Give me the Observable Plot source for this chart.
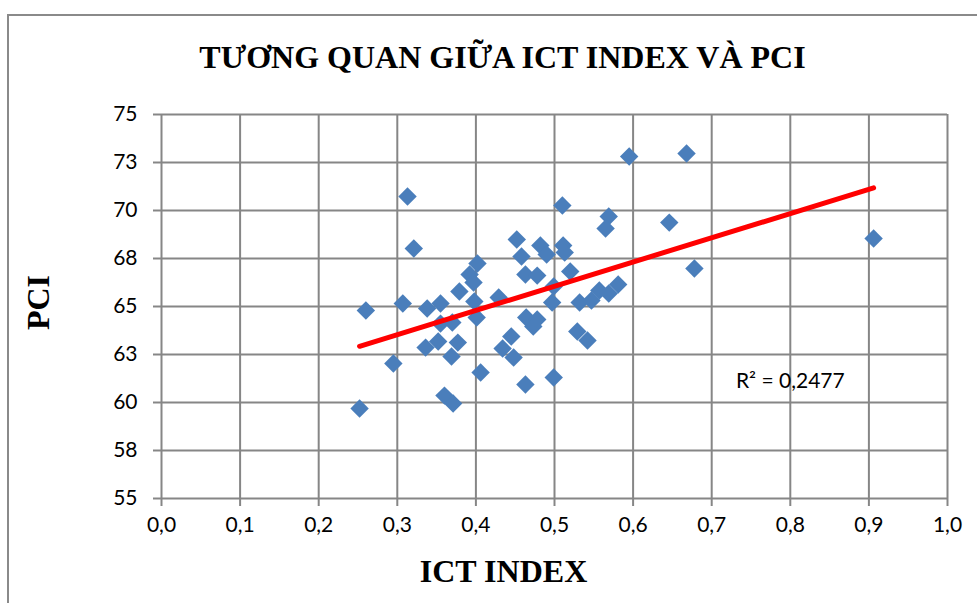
<!DOCTYPE html>
<html><head><meta charset="utf-8">
<script src="https://cdn.jsdelivr.net/npm/d3@7"></script>
<script src="https://cdn.jsdelivr.net/npm/@observablehq/plot@0.6"></script>
<style>
html,body{margin:0;padding:0;background:#fff;overflow:hidden;width:977px;height:603px;}
#frame{position:absolute;left:7px;top:14px;width:1000px;height:700px;border:2px solid #8a8a8a;box-sizing:border-box;}
#chart{position:absolute;left:0;top:0;}
</style></head><body>
<div id="frame"></div><div id="chart"></div>
<script>
const ictIndex = [0.252,0.260,0.295,0.307,0.313,0.321,0.336,0.338,0.352,0.355,0.355,0.360,0.371,0.370,0.369,0.377,0.379,0.392,0.397,0.402,0.398,0.401,0.406,0.429,0.434,0.445,0.448,0.452,0.458,0.463,0.463,0.464,0.478,0.473,0.478,0.482,0.490,0.497,0.499,0.499,0.510,0.511,0.513,0.520,0.529,0.542,0.532,0.547,0.557,0.569,0.581,0.569,0.565,0.595,0.646,0.668,0.678,0.906];
const pci = [59.69,64.79,62.03,65.16,70.73,68.02,62.86,64.90,63.18,65.16,64.11,60.36,59.95,64.17,62.40,63.12,65.78,66.67,66.25,67.24,65.26,64.43,61.56,65.47,62.81,63.44,62.34,68.49,67.60,66.67,60.94,64.43,64.32,63.96,66.61,68.18,67.71,65.21,66.04,61.30,70.26,68.18,67.81,66.82,63.70,63.23,65.21,65.31,65.83,65.68,66.15,69.69,69.06,72.81,69.37,72.97,66.98,68.54];
const xTicks = [0,0.1,0.2,0.3,0.4,0.5,0.6,0.7,0.8,0.9,1.0];
const xTickLabels = ["0,0","0,1","0,2","0,3","0,4","0,5","0,6","0,7","0,8","0,9","1,0"];
const yTicks = [55,57.5,60,62.5,65,67.5,70,72.5,75];
const yTickLabels = ["55","58","60","63","65","68","70","73","75"];
const title = "TƯƠNG QUAN GIỮA ICT INDEX VÀ PCI";
const xLabel = "ICT INDEX";
const yLabel = "PCI";
const r2Label = "R² = 0,2477";
const r2Pos = [{x: 0.8, y: 61.1, label: r2Label}];

const points = ictIndex.map((x, i) => ({x, y: pci[i]}));
const grey = "#868686";
const serif = "'Liberation Serif', 'Times New Roman', serif";

const chart = Plot.plot({
  width: 977, height: 603,
  marginLeft: 161, marginRight: 30, marginTop: 114, marginBottom: 105,
  style: {background: "transparent", fontFamily: "Lato, sans-serif", fontSize: "21px", color: "#000", overflow: "visible"},
  x: {domain: [0, 1]},
  y: {domain: [55, 75]},
  marks: [
    Plot.gridX(xTicks, {stroke: grey, strokeOpacity: 1, strokeWidth: 2}),
    Plot.gridY(yTicks, {stroke: grey, strokeOpacity: 1, strokeWidth: 2}),
    Plot.axisX(xTicks, {tickFormat: d => xTickLabels[xTicks.indexOf(d)], tickSize: 8, tickPadding: 11, stroke: grey, strokeWidth: 2, fill: "#000", fontSize: 21, label: null}),
    Plot.axisY(yTicks, {tickFormat: d => yTickLabels[yTicks.indexOf(d)], tickSize: 8, tickPadding: 16, stroke: grey, strokeWidth: 2, fill: "#000", fontSize: 21, label: null}),
    Plot.dot(points, {x: "x", y: "y", symbol: "diamond2", r: 8.3, fill: "#4A7EBB"}),
    Plot.linearRegressionY(points, {x: "x", y: "y", stroke: "#FF0000", strokeWidth: 5, ci: 0, strokeLinecap: "round"}),
    Plot.text(r2Pos, {x: "x", y: "y", text: "label", fontSize: 21, fill: "#000"}),
    Plot.text([title], {frameAnchor: "top", lineAnchor: "middle", textAnchor: "middle", dx: -52, dy: -57, fontSize: 32, fontWeight: "bold", fontFamily: serif, fill: "#000"}),
    Plot.text([xLabel], {frameAnchor: "bottom", lineAnchor: "middle", textAnchor: "middle", dx: -51, dy: 73, fontSize: 32, fontWeight: "bold", fontFamily: serif, fill: "#000"}),
    Plot.text([yLabel], {frameAnchor: "left", lineAnchor: "middle", textAnchor: "middle", dx: -123, dy: -4, rotate: -90, fontSize: 32, fontWeight: "bold", fontFamily: serif, fill: "#000"})
  ]
});
document.getElementById("chart").appendChild(chart);
</script>
</body></html>
